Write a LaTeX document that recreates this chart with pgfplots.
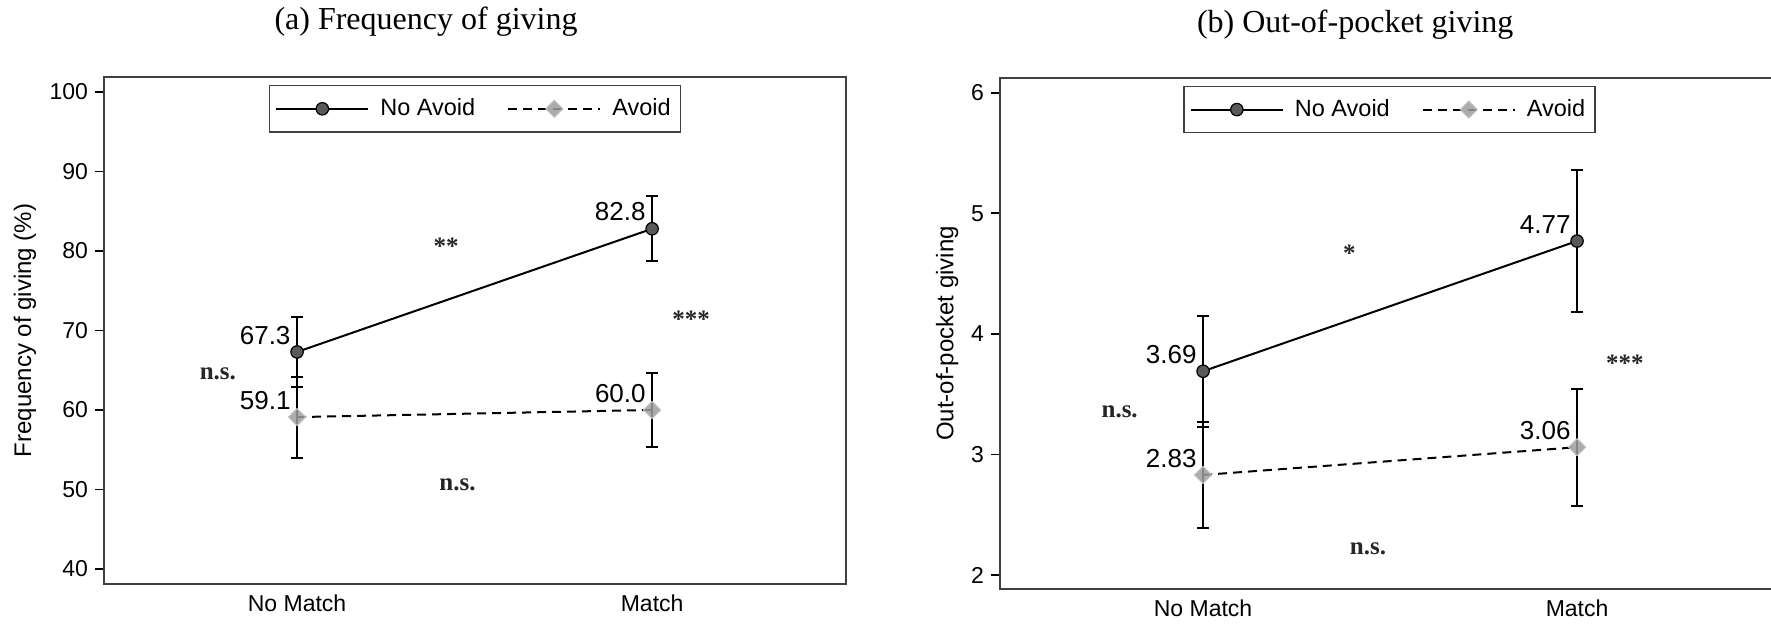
\documentclass[border=0pt]{standalone}
\usepackage{fontspec}
\setmainfont{Liberation Sans}
\newfontfamily\tnr{Liberation Serif}
\usepackage{pgfplots}
\usepackage{pgfplotstable}
\pgfplotsset{compat=1.18}

\definecolor{framec}{gray}{0.25}
\definecolor{markdark}{gray}{0.35}
\definecolor{marklight}{gray}{0.62}
\definecolor{markedge}{gray}{0.75}

\pgfplotstableread{
x y e lab
0 67.3 4.4 67.3
1 82.8 4.1 82.8
}\aNoAvoid
\pgfplotstableread{
x y e lab
0 59.1 5.1 59.1
1 60.0 4.7 60.0
}\aAvoid
\pgfplotstableread{
x y e lab
0 3.69 0.46 3.69
1 4.77 0.59 4.77
}\bNoAvoid
\pgfplotstableread{
x y e lab
0 2.83 0.44 2.83
1 3.06 0.485 3.06
}\bAvoid

\tikzset{ann/.style={font=\tnr\bfseries\fontsize{12.5}{14}\selectfont, text=black!85}}

\pgfplotsset{
 every axis title shift=0pt,
 mystyle/.style={
   scale only axis,
   axis line style={line width=1.1pt, framec},
   xtick={0,1}, xticklabels={No Match, Match},
   xtick style={draw=none},
   xticklabel style={yshift=2.5pt},
   ytick pos=left, tick align=outside,
   major tick length=4.5pt,
   ytick style={line width=0.9pt, black},
   tick label style={font=\fontsize{11.5}{13}\selectfont},
   /pgf/number format/assume math mode=true,
   label style={font=\fontsize{12}{14}\selectfont},
   title style={font=\tnr\fontsize{16}{18}\selectfont, anchor=base},
   legend columns=2,
   legend style={at={(0.5,0.984)}, anchor=north, draw=framec, line width=0.7pt,
     font=\fontsize{11.75}{13}\selectfont, inner xsep=3pt, inner ysep=4.5pt,
     /tikz/every odd column/.append style={column sep=3.5pt},
     /tikz/every even column/.append style={column sep=14pt}},
   legend image code/.code={\draw[mark repeat=2,mark phase=2,##1] plot coordinates {(0pt,0pt) (23pt,0pt) (46pt,0pt)};},
   nodes near coords, point meta=explicit symbolic,
   every node near coord/.append style={anchor=south east, xshift=-3pt, yshift=3.5pt, inner sep=0pt,
     font=\fontsize{13}{15}\selectfont, text=black, opacity=1, text opacity=1, fill opacity=1},
   error bars/y dir=both, error bars/y explicit,
   error bars/error bar style={solid, line width=1pt, black},
   error bars/error mark options={solid, rotate=90, mark size=3pt, line width=1pt, black},
 },
 noavoid/.style={black, line width=1pt, mark=*, mark size=3.1pt,
   mark options={solid, fill=markdark, draw=black, line width=0.6pt}},
 avoid/.style={black, line width=1pt, dash pattern=on 4.5pt off 3pt, mark=square*, mark size=3pt,
   mark options={solid, rotate=45, fill=marklight, draw=markedge, fill opacity=0.85, line width=0.5pt}},
}

\begin{document}
\begin{tikzpicture}
\useasboundingbox (0,0) rectangle (885.5pt,312pt);
% Panel (a)
\begin{axis}[mystyle,
  at={(52pt,20pt)}, anchor=south west,
  width=371pt, height=253.5pt,
  xmin=-0.5437, xmax=1.546, ymin=38.1, ymax=101.9,
  ytick={40,50,...,100},
  ylabel={Frequency of giving (\%)},
  ylabel style={at={(axis description cs:-0.1065,0.5)}, anchor=center},
  title={(a) Frequency of giving},
  title style={at={(axis description cs:0.434,1.093)}},
]
\addplot[noavoid] table[x=x, y=y, y error=e, meta=lab] {\aNoAvoid};
\addlegendentry{No Avoid}
\addplot[avoid] table[x=x, y=y, y error=e, meta=lab] {\aAvoid};
\addlegendentry{Avoid}
\node[ann] at (axis cs:-0.223,64.5) {n.s.};
\node[ann] at (axis cs:0.42,80.6) {**};
\node[ann] at (axis cs:1.11,71.4) {***};
\node[ann] at (axis cs:0.452,50.6) {n.s.};
\end{axis}
% Panel (b)
\begin{axis}[mystyle,
  at={(500pt,17.5pt)}, anchor=south west,
  width=389.5pt, height=255.65pt,
  xmin=-0.543, xmax=1.540, ymin=1.884, ymax=6.125,
  ytick={2,3,4,5,6},
  ylabel={Out-of-pocket giving},
  ylabel style={at={(axis description cs:-0.068,0.5)}, anchor=center},
  title={(b) Out-of-pocket giving},
  title style={at={(axis description cs:0.456,1.089)}},
]
\addplot[noavoid] table[x=x, y=y, y error=e, meta=lab] {\bNoAvoid};
\addlegendentry{No Avoid}
\addplot[avoid] table[x=x, y=y, y error=e, meta=lab] {\bAvoid};
\addlegendentry{Avoid}
\node[ann] at (axis cs:-0.223,3.35) {n.s.};
\node[ann] at (axis cs:0.391,4.67) {*};
\node[ann] at (axis cs:1.128,3.76) {***};
\node[ann] at (axis cs:0.441,2.22) {n.s.};
\end{axis}
\end{tikzpicture}
\end{document}
